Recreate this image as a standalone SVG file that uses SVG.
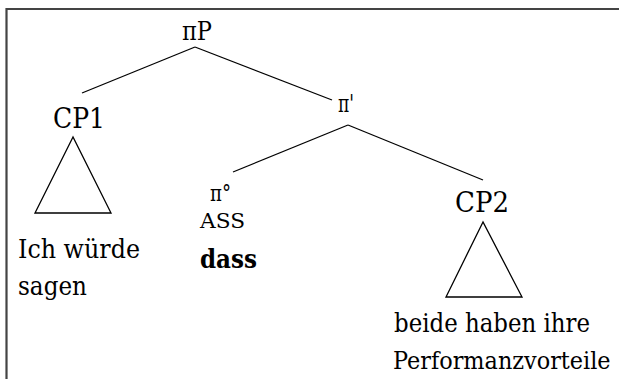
<svg xmlns="http://www.w3.org/2000/svg" width="619" height="379" viewBox="0 0 619 379">
  <style>
    .lbl { font-family: 'DejaVu Serif', 'Liberation Serif', serif; fill: #000; }
    .edge { stroke: #000; stroke-width: 1.3; fill: none; }
    .frame { stroke: #444; stroke-width: 2.2; fill: none; }
  </style>
  <rect width="619" height="379" fill="#fff"/>
  <!-- frame (top and left edges) -->
  <path class="frame" d="M6.5,379 V9 H619"/>

  <!-- tree branches and subtree triangles -->
  <g id="connectors">
    <line class="edge" x1="195" y1="47" x2="82" y2="93"/>
    <line class="edge" x1="195" y1="47" x2="332" y2="100"/>
    <line class="edge" x1="348" y1="125" x2="233" y2="172"/>
    <line class="edge" x1="348" y1="125" x2="483" y2="180"/>
    <polygon class="edge" points="73,137 35,213 111,213"/>
    <polygon class="edge" points="483,222 446,297 522,297"/>
  </g>

  <g id="piP">
    <text class="lbl" x="182" y="40" font-size="26" textLength="30" lengthAdjust="spacingAndGlyphs">πP</text>
  </g>
  <g id="CP1">
    <text class="lbl" x="53" y="128" font-size="27" textLength="52" lengthAdjust="spacingAndGlyphs">CP1</text>
  </g>
  <g id="CP1-text">
    <text class="lbl" x="18" y="258" font-size="26" textLength="122" lengthAdjust="spacingAndGlyphs">Ich würde</text>
    <text class="lbl" x="18" y="295" font-size="26" textLength="69" lengthAdjust="spacingAndGlyphs">sagen</text>
  </g>
  <g id="pi-bar">
    <text class="lbl" x="338" y="112" font-size="24" textLength="16" lengthAdjust="spacingAndGlyphs">π'</text>
  </g>
  <g id="pi-head">
    <text class="lbl" x="210" y="201" font-size="23" textLength="21" lengthAdjust="spacingAndGlyphs">π°</text>
    <text class="lbl" x="200" y="228" font-size="21" textLength="45" lengthAdjust="spacingAndGlyphs">ASS</text>
    <text class="lbl" x="200" y="268" font-size="26" font-weight="bold" textLength="57" lengthAdjust="spacingAndGlyphs">dass</text>
  </g>
  <g id="CP2">
    <text class="lbl" x="455" y="212" font-size="27" textLength="54" lengthAdjust="spacingAndGlyphs">CP2</text>
  </g>
  <!-- the wide serif face is narrowed horizontally so both lines keep their height -->
  <g id="CP2-text">
    <text class="lbl" transform="translate(394,332) scale(0.8,1)" font-size="26" textLength="245" lengthAdjust="spacingAndGlyphs">beide haben ihre</text>
    <text class="lbl" transform="translate(393,369) scale(0.8,1)" font-size="24" textLength="272" lengthAdjust="spacingAndGlyphs">Performanzvorteile</text>
  </g>
</svg>
